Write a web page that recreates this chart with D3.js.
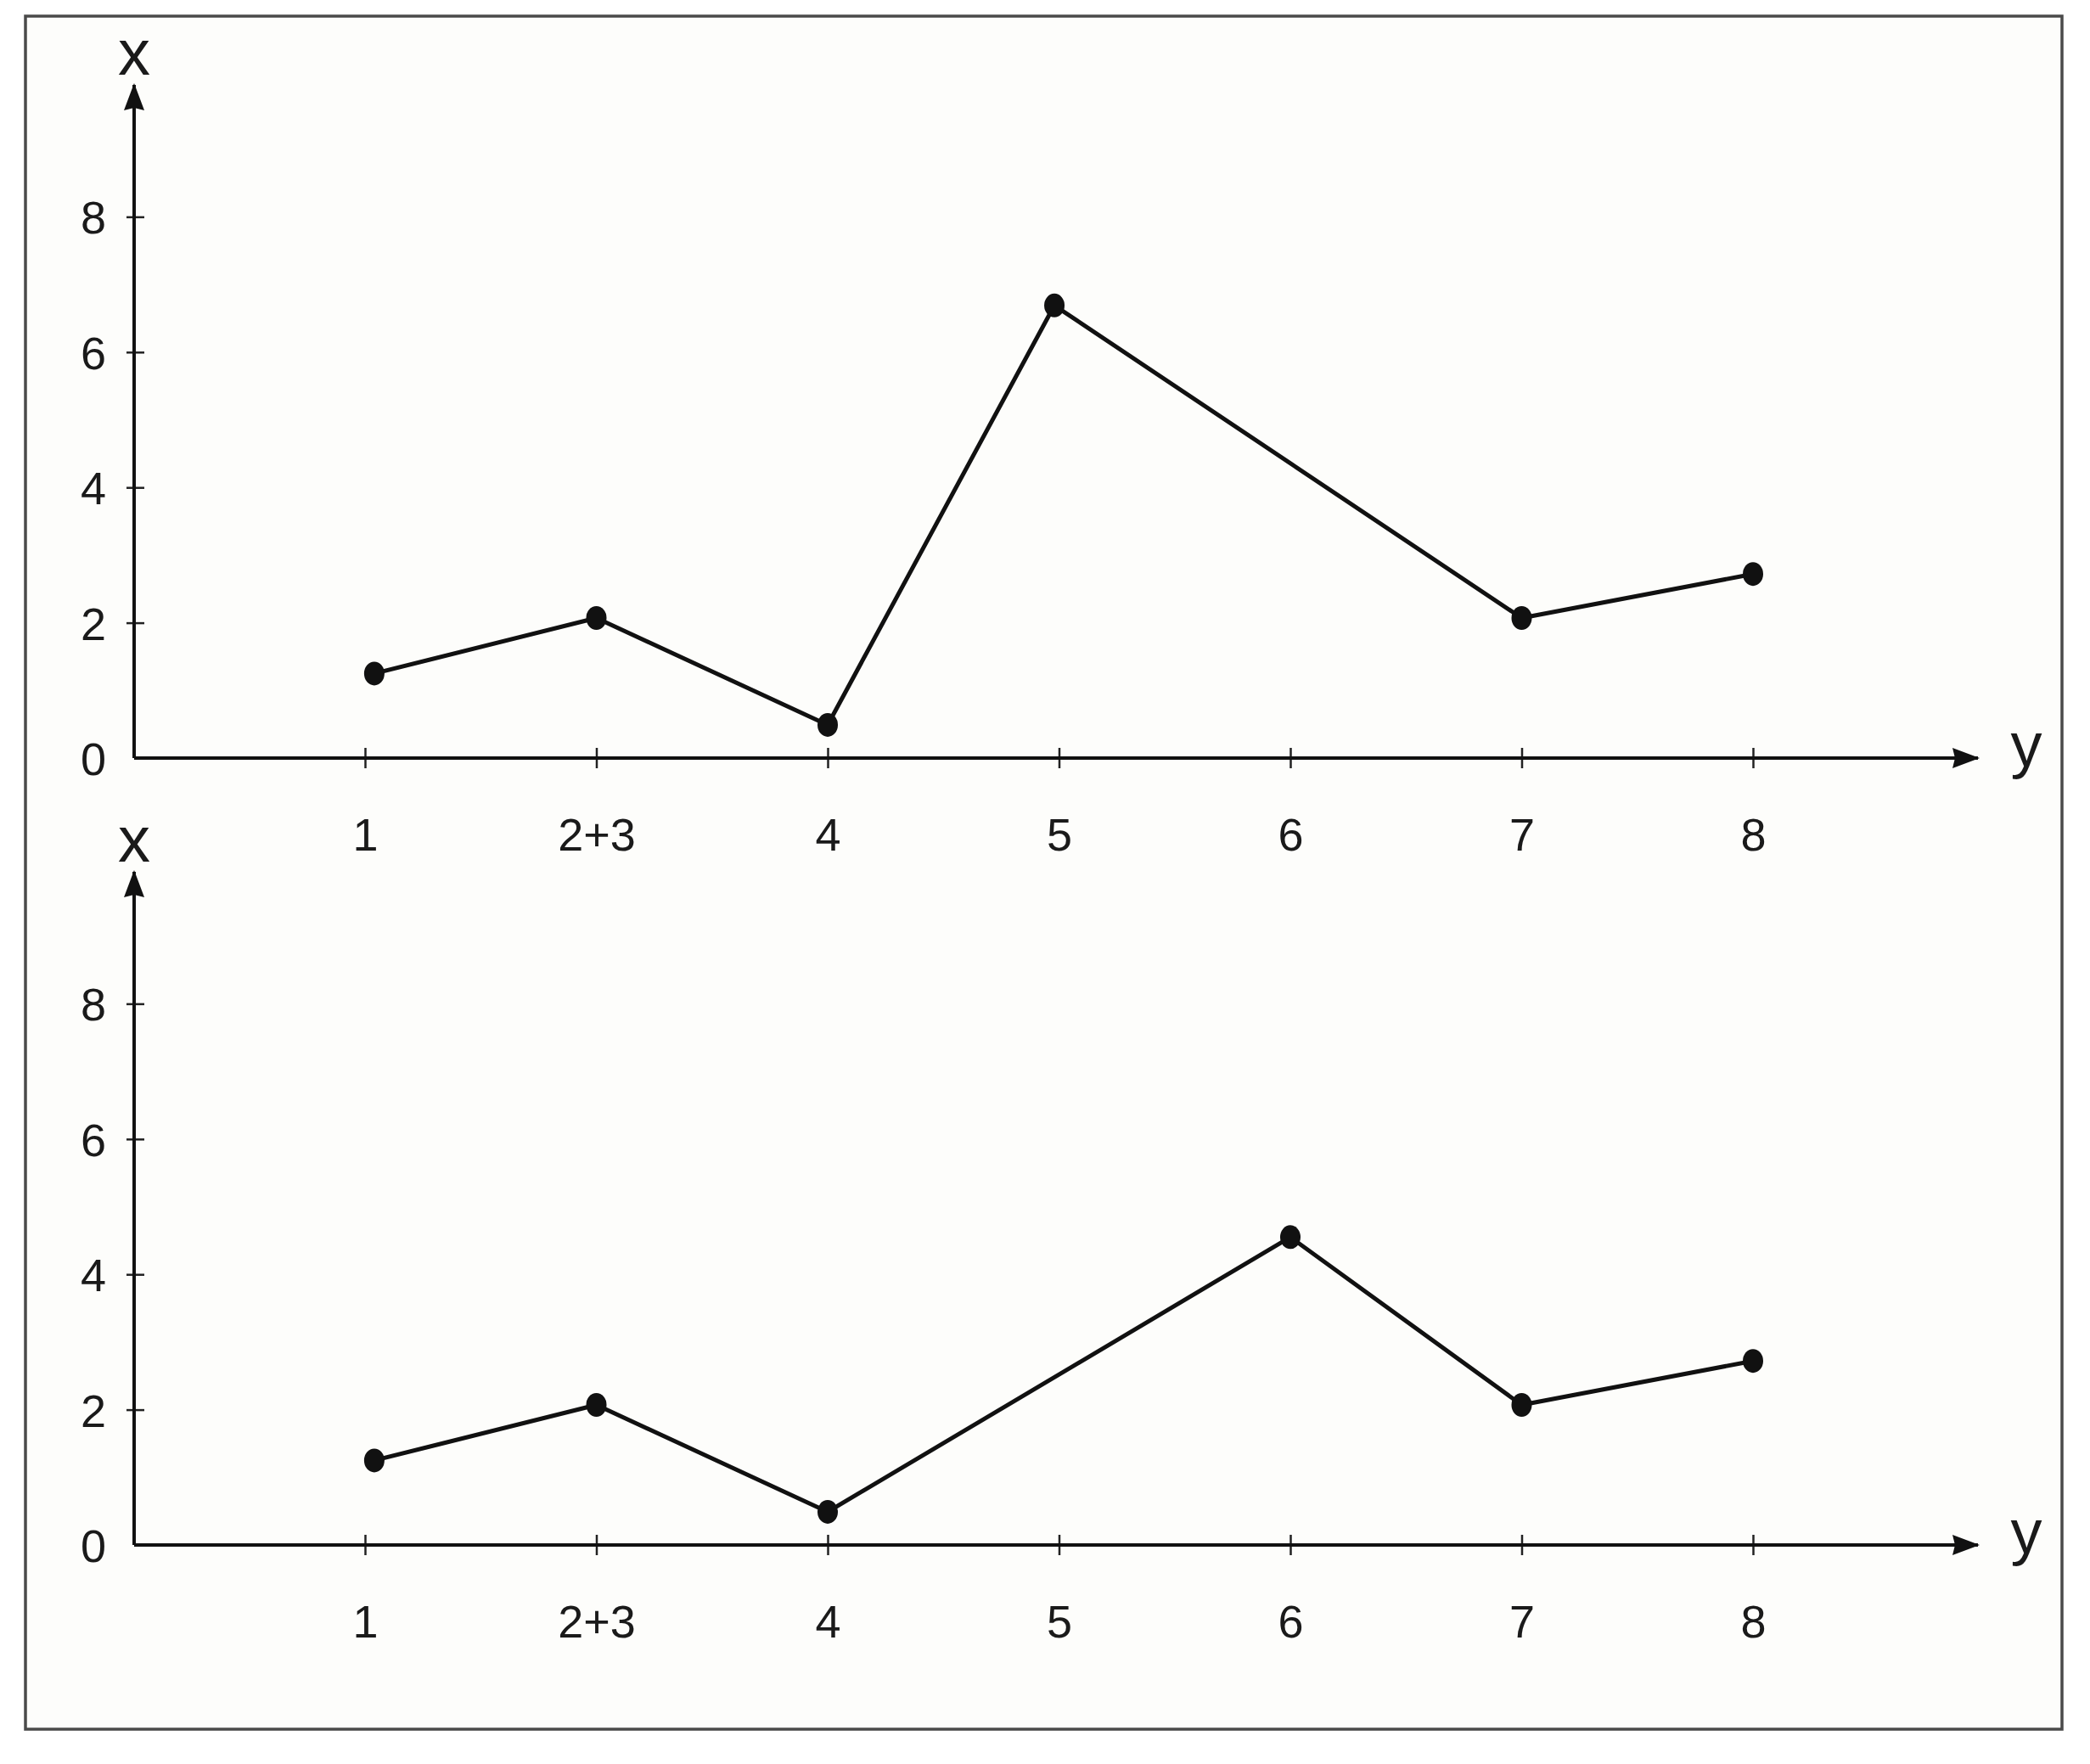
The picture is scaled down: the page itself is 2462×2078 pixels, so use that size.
<!DOCTYPE html>
<html>
<head>
<meta charset="utf-8">
<script src="https://cdn.jsdelivr.net/npm/d3@7/dist/d3.min.js"></script>
<style>
  body { margin: 0; background: #fff; }
  text { font-family: "Liberation Sans", Arial, sans-serif; fill: #1a1a1a; }
</style>
</head>
<body>
<script>
var categories = ['1', '2+3', '4', '5', '6', '7', '8'];
var yTicks = [0, 2, 4, 6, 8];

// point positions are category indexes (0 = "1")
var topPos = [0.04, 1, 2, 2.98, 5, 6];
var topVals = [1.25, 2.07, 0.49, 6.69, 2.07, 2.72];
var bottomPos = [0.04, 1, 2, 4, 5, 6];
var bottomVals = [1.25, 2.07, 0.49, 4.55, 2.07, 2.72];

d3main();

function d3main() {
  var w = 2462;
  var h = 2078;

  var svg = d3.select('body').append('svg')
    .attr('width', w)
    .attr('height', h);

  svg.append('defs').append('marker')
    .attr('id', 'arrow')
    .attr('viewBox', '0 0 32 24')
    .attr('refX', 30)
    .attr('refY', 12)
    .attr('markerWidth', 32)
    .attr('markerHeight', 24)
    .attr('markerUnits', 'userSpaceOnUse')
    .attr('orient', 'auto')
    .append('path')
    .attr('d', 'M0,0 L32,12 L0,24 L3,12 Z')
    .attr('fill', '#111');

  svg.append('rect')
    .attr('x', 30).attr('y', 19)
    .attr('width', 2399).attr('height', 2018)
    .attr('fill', '#fdfdfb')
    .attr('stroke', '#4a4a4a')
    .attr('stroke-width', 3.5);

  var x = d3.scaleLinear().domain([0, 6]).range([430, 2065]);
  var y = d3.scaleLinear().domain([0, 8]).range([0, -637.6]);

  drawPanel(893, topPos, topVals);
  drawPanel(1820, bottomPos, bottomVals);

  function drawPanel(oy, pos, vals) {
    var g = svg.append('g').attr('transform', 'translate(0,' + oy + ')');
    var ox = 158;

    // y axis
    var ya = g.append('g')
      .attr('transform', 'translate(' + ox + ',0)')
      .call(d3.axisLeft(y).tickValues(yTicks).tickSize(9).tickPadding(24));
    ya.attr('font-family', null).attr('font-size', null);
    ya.select('.domain').remove();
    ya.selectAll('.tick line').attr('x1', -9).attr('x2', 12).attr('stroke', '#222').attr('stroke-width', 2.5);
    ya.selectAll('.tick').filter(function(d) { return d === 0; }).select('line').remove();
    ya.selectAll('.tick text').attr('font-size', 54).attr('dy', '0.36em');

    // x axis
    var xa = g.append('g')
      .call(d3.axisBottom(x).tickValues(d3.range(categories.length))
        .tickFormat(function(d) { return categories[d]; })
        .tickSize(12).tickPadding(59));
    xa.attr('font-family', null).attr('font-size', null);
    xa.select('.domain').remove();
    xa.selectAll('.tick line').attr('y1', -12).attr('y2', 12).attr('stroke', '#222').attr('stroke-width', 2.5);
    xa.selectAll('.tick text').attr('font-size', 54).attr('dy', '0.71em');

    // axis lines with arrows
    g.append('line')
      .attr('x1', ox).attr('y1', 0).attr('x2', ox).attr('y2', -793)
      .attr('stroke', '#111').attr('stroke-width', 4)
      .attr('marker-end', 'url(#arrow)');
    g.append('line')
      .attr('x1', ox).attr('y1', 0).attr('x2', 2330).attr('y2', 0)
      .attr('stroke', '#111').attr('stroke-width', 4)
      .attr('marker-end', 'url(#arrow)');

    g.append('text').attr('x', ox).attr('y', -805)
      .attr('text-anchor', 'middle').attr('font-size', 76).text('x');
    g.append('text').attr('x', 2387).attr('y', 10)
      .attr('text-anchor', 'middle').attr('font-size', 74).text('y');

    var pts = pos.map(function(p, i) { return [p, vals[i]]; });

    g.append('path')
      .datum(pts)
      .attr('fill', 'none')
      .attr('stroke', '#111')
      .attr('stroke-width', 5)
      .attr('stroke-linejoin', 'round')
      .attr('d', d3.line().x(function(d) { return x(d[0]); }).y(function(d) { return y(d[1]); }));

    g.selectAll('ellipse')
      .data(pts)
      .enter()
      .append('ellipse')
      .attr('cx', function(d) { return x(d[0]); })
      .attr('cy', function(d) { return y(d[1]); })
      .attr('rx', 12)
      .attr('ry', 14)
      .attr('fill', '#111');
  }
}
</script>
</body>
</html>
